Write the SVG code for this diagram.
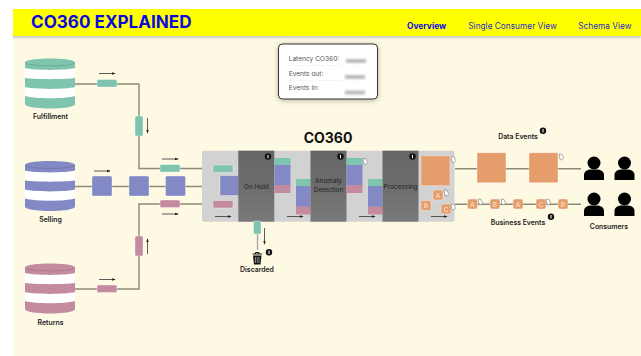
<svg xmlns="http://www.w3.org/2000/svg" width="641" height="356" viewBox="0 0 641 356">
<style>
text{font-family:"Inter","Liberation Sans",sans-serif}
.lbl{font-size:6.9px;font-weight:600;fill:#222;text-anchor:middle}
.nav{font-size:8.3px;fill:#2a2ad0}
.stat{font-size:6.6px;fill:#555}
.pipe{fill:none;stroke:#8a8a78;stroke-width:1.4}
.arr{stroke:#333;stroke-width:.8;fill:none;marker-end:url(#ah)}
.g{fill:#7fc4ae}.b{fill:#8389c4}.r{fill:#c48ba0}.o{fill:#e69d6c}
.box{stroke:#fff;stroke-opacity:.45;stroke-width:.8}
.dark{fill:url(#dk)}
.ev{font-size:6.5px;fill:#fbe6d4;text-anchor:middle}
.tag{fill:#fff;stroke:#777;stroke-width:.6}
.ph{font-size:6.5px;fill:#222;text-anchor:middle}
.top{fill:none;stroke:#000;stroke-opacity:.18;stroke-width:.7}
</style>
<defs>
<marker id="ah" viewBox="0 0 6 6" refX="5" refY="3" markerWidth="5" markerHeight="5" orient="auto"><path d="M0 1L6 3L0 5Z" fill="#222"/></marker>
<linearGradient id="dk" x1="0" y1="0" x2="0" y2="1"><stop offset="0" stop-color="#656565"/><stop offset=".55" stop-color="#6e6e6e"/><stop offset="1" stop-color="#7a7a7a"/></linearGradient>
<filter id="bl" x="-30%" y="-80%" width="160%" height="260%"><feGaussianBlur stdDeviation="1.300"/></filter>
<filter id="sh" x="-20%" y="-20%" width="140%" height="140%"><feDropShadow dx="0" dy="1" stdDeviation="2.500" flood-color="#000" flood-opacity=".3"/></filter>
<g id="info"><circle r="3.200" fill="#111"/><rect x="-.5" y="-1.700" width="1" height="3.400" fill="#fff"/></g>
<path id="cyl" d="M0 4V46C0 51 50 51 50 46V4Z" fill="#fff"/>
<g id="tagi"><path d="M-2 -2.800L.8 -2.800L2.600 1L1 2.800L-.8 2.800Z" class="tag"/></g>
<g id="person"><circle cx="0" cy="-8" r="6.500" fill="#000"/><path d="M-10 9V4C-10 0 -6 -1.500 -3 -1.500H3C6 -1.500 10 0 10 4V9Z" fill="#000"/></g>
<path id="b1" d="M0 4.500C0 -1 50 -1 50 4.500V10C40 12.500 10 12.500 0 10Z"/>
<path id="b2" d="M0 20C10 21.500 40 21.500 50 20V29C40 31.500 10 31.500 0 29Z"/>
<path id="b3" d="M0 38C10 41 40 41 50 38V46C50 52 0 52 0 46Z"/>
<path id="cyltop" d="M0 4.500C0 9 50 9 50 4.500"/>
</defs>
<rect width="641" height="356" fill="#fff"/>
<rect x="13" y="36" width="628" height="320" fill="#fef9e3"/>
<g id="header">
<rect x="13" y="34" width="628" height="4" fill="#ccc" filter="url(#bl)"/>
<rect x="13" y="9" width="628" height="27" fill="#ff0"/>
<text x="31" y="28" font-size="17.100" font-weight="700" fill="#0a0ae0">CO360 EXPLAINED</text>
<text x="407" y="28.500" class="nav" font-weight="700" style="fill:#0a0ae0;font-size:8.400px">Overview</text>
<text x="468.300" y="28.500" class="nav">Single Consumer View</text>
<text x="578.300" y="28.500" class="nav">Schema View</text>
</g>
<g id="stats">
<rect x="278.500" y="44" width="99" height="55" rx="4" fill="#fff" stroke="#333" filter="url(#sh)"/>
<text x="288.700" y="61" class="stat">Latency CO360:</text>
<text x="288.700" y="75.700" class="stat">Events out:</text>
<text x="288.700" y="90.300" class="stat">Events in:</text>
<path d="M286 65.500H342M286 80.500H342" stroke="#eee" stroke-width=".6"/>
<rect x="346" y="59" width="20" height="4" fill="#bbb" filter="url(#bl)"/>
<rect x="345" y="75" width="20" height="4" fill="#bbb" filter="url(#bl)"/>
<rect x="345" y="90.500" width="20" height="4" fill="#bbb" filter="url(#bl)"/>
</g>
<g id="connectors">
<path class="pipe" d="M75 84H139V168.500H203"/>
<path class="pipe" d="M75 186.500H203"/>
<path class="pipe" d="M75 289H139V204H203"/>
<path class="pipe" d="M257.500 221V250" style="stroke:#aaa"/>
<path class="pipe" d="M455 168.700H581"/>
<path class="pipe" d="M455 204.300H581"/>
<path class="arr" d="M99 73.500H115"/>
<path class="arr" d="M147.500 118V133"/>
<path class="arr" d="M162 159H178"/>
<path class="arr" d="M94 171H110"/>
<path class="arr" d="M162 214H178"/>
<path class="arr" d="M99 279.500H115"/>
<path class="arr" d="M147.500 254V239"/>
</g>
<g id="fulfillment">
<use href="#cyl" x="25" y="58"/>
<g class="g" transform="translate(25 58)"><use href="#b1"/><use href="#b2"/><use href="#b3"/><use href="#cyltop" class="top"/></g>
<text x="50.500" y="119" class="lbl">Fulfillment</text>
</g>
<g id="selling">
<use href="#cyl" x="25" y="160.500"/>
<g class="b" transform="translate(25 160.500)"><use href="#b1"/><use href="#b2"/><use href="#b3"/><use href="#cyltop" class="top"/></g>
<text x="50.500" y="222" class="lbl">Selling</text>
</g>
<g id="returns">
<use href="#cyl" x="25" y="263"/>
<g class="r" transform="translate(25 263)"><use href="#b1"/><use href="#b2"/><use href="#b3"/><use href="#cyltop" class="top"/></g>
<text x="50.500" y="325" class="lbl">Returns</text>
</g>
<g id="pipe-events">
<rect x="97" y="79.500" width="20" height="7.500" rx="1.500" class="g box"/>
<rect x="135" y="116" width="8" height="20" rx="1.500" class="g box"/>
<rect x="160" y="164.500" width="20" height="7.500" rx="1.500" class="g box"/>
<rect x="92" y="176" width="20" height="20" rx="1.500" class="b box"/>
<rect x="129" y="176" width="20" height="20" rx="1.500" class="b box"/>
<rect x="165.500" y="176" width="20" height="20" rx="1.500" class="b box"/>
<rect x="160" y="200" width="20" height="7.500" rx="1.500" class="r box"/>
<rect x="135" y="236" width="8" height="20" rx="1.500" class="r box"/>
<rect x="97" y="285" width="20" height="7.500" rx="1.500" class="r box"/>
</g>
<g id="co360">
<rect x="202" y="150.700" width="252.500" height="71" rx="2" fill="#d2d2d2"/>
<text x="328" y="143" font-size="14" font-weight="700" fill="#111" text-anchor="middle">CO360</text>
<rect x="213" y="165" width="20" height="7.500" rx="1" class="g box"/>
<rect x="220" y="175.500" width="19" height="20" rx="1" class="b box"/>
<rect x="213" y="200.500" width="20" height="7.500" rx="1" class="r box"/>
<path class="arr" d="M215 216.500H231"/>
<rect x="238.300" y="150.700" width="36" height="71" class="dark"/>
<text x="256.300" y="188.500" class="ph">On Hold</text>
<use href="#info" x="268" y="156.500"/>
<rect x="274.500" y="158" width="16" height="8" class="g"/>
<rect x="274.500" y="165" width="16" height="20.500" class="b"/>
<rect x="274.500" y="185" width="16" height="8" class="r"/>
<rect x="296" y="179" width="14.500" height="8" class="g"/>
<rect x="296" y="186" width="14.500" height="21" class="b"/>
<rect x="296" y="206.500" width="14.500" height="8" class="r"/>
<path class="arr" d="M287 216.500H303"/>
<rect x="310.500" y="150.700" width="36" height="71" class="dark"/>
<text x="328.500" y="182.800" class="ph">Anomaly</text>
<text x="328.500" y="192" class="ph">Detection</text>
<use href="#info" x="340.500" y="156.500"/>
<rect x="346.500" y="158" width="16" height="8" class="g"/>
<rect x="346.500" y="165" width="16" height="20.500" class="b"/>
<rect x="346.500" y="185" width="16" height="8" class="r"/>
<use href="#tagi" x="365" y="161.500"/>
<rect x="368" y="179" width="14.500" height="8" class="g"/>
<rect x="368" y="186" width="14.500" height="21" class="b"/>
<rect x="368" y="206.500" width="14.500" height="8" class="r"/>
<path class="arr" d="M359 216.500H375"/>
<rect x="382.500" y="150.700" width="36" height="71" class="dark"/>
<text x="400.500" y="188.500" class="ph">Processing</text>
<use href="#info" x="412.500" y="156.500"/>
<rect x="421" y="155.700" width="29" height="30" rx="1" class="o box"/>
<use href="#tagi" x="453" y="159.500"/>
<rect x="433" y="190" width="10" height="10" rx="2" class="o box"/>
<text x="438" y="197.500" class="ev">A</text>
<use href="#tagi" x="446" y="193"/>
<rect x="421" y="200.500" width="10" height="10" rx="2" class="o box"/>
<text x="426" y="208" class="ev">B</text>
<rect x="441" y="204" width="10" height="10" rx="2" class="o box"/>
<text x="446" y="211.500" class="ev">C</text>
<use href="#tagi" x="453" y="207"/>
<path class="arr" d="M431 216.500H447"/>
</g>
<g id="discarded">
<rect x="253.500" y="221" width="7.500" height="13" rx="1" class="g box"/>
<path class="arr" d="M264.500 228V244"/>
<path d="M252.500 254H262M255.500 254V252.500H259V254" fill="none" stroke="#111" stroke-width="1"/>
<path d="M253 255.500H261.500L260.500 264.500H254Z" fill="#111"/>
<path d="M255.500 257V263M257.300 257V263M259 257V263" stroke="#fef9e3" stroke-width=".5"/>
<use href="#info" x="269" y="252.300"/>
<text x="257" y="271.500" class="lbl">Discarded</text>
</g>
<g id="data-events">
<rect x="477" y="152.700" width="29" height="30" rx="1" class="o box"/>
<rect x="529" y="152.700" width="29" height="30" rx="1" class="o box"/>
<use href="#tagi" x="561" y="157"/>
<text x="518" y="139.300" class="lbl">Data Events</text>
<use href="#info" x="543" y="130.700"/>
</g>
<g id="business-events">
<rect x="467.500" y="199" width="10" height="10" rx="2" class="o box"/><text x="472.500" y="206.500" class="ev">A</text><use href="#tagi" x="480" y="202"/>
<rect x="490" y="199" width="10" height="10" rx="2" class="o box"/><text x="495" y="206.500" class="ev">B</text><use href="#tagi" x="503" y="202"/>
<rect x="513" y="199" width="10" height="10" rx="2" class="o box"/><text x="518" y="206.500" class="ev">A</text>
<rect x="536" y="199" width="10" height="10" rx="2" class="o box"/><text x="541" y="206.500" class="ev">C</text><use href="#tagi" x="548" y="202"/>
<rect x="558" y="199" width="10" height="10" rx="2" class="o box"/><text x="563" y="206.500" class="ev">B</text>
<text x="518" y="225" class="lbl">Business Events</text>
<use href="#info" x="551" y="216.700"/>
</g>
<g id="consumers">
<use href="#person" x="594" y="171"/>
<use href="#person" x="624.500" y="171"/>
<use href="#person" x="594" y="207"/>
<use href="#person" x="624.500" y="207"/>
<text x="609" y="228.500" class="lbl">Consumers</text>
</g>
</svg>
